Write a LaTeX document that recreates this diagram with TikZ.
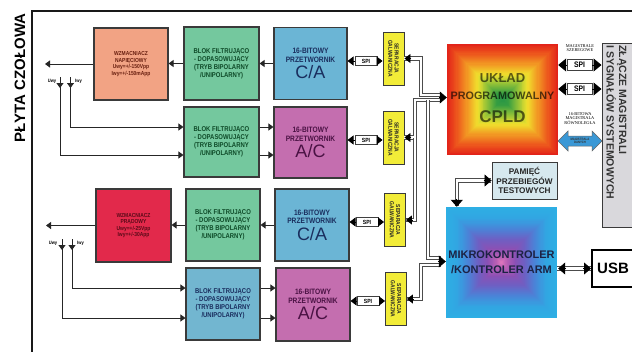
\documentclass[tikz,border=0pt]{standalone}
\usepackage{fontspec}
\setmainfont{Liberation Sans}
\newfontfamily\nar[FakeStretch=0.85]{Liberation Sans}
\newfontfamily\srf{Liberation Serif}
\usetikzlibrary{arrows.meta,calc}

\definecolor{salmon}{HTML}{F2A384}
\definecolor{fgreen}{HTML}{74C89E}
\definecolor{cblue}{HTML}{6BB5D5}
\definecolor{cmag}{HTML}{C46EAF}
\definecolor{cred}{HTML}{E2294B}
\definecolor{fblue}{HTML}{72B6D0}
\definecolor{sepy}{HTML}{F2EC38}
\definecolor{gbox}{HTML}{D9D8DC}
\definecolor{pbox}{HTML}{D6E8EE}
\definecolor{edge}{HTML}{3A3A3A}
\definecolor{arrblue}{HTML}{3A98D6}
\definecolor{wtxt}{HTML}{6A2010}
\definecolor{rtxt}{HTML}{5A0A18}
\definecolor{gtxt}{HTML}{0E4A28}
\definecolor{btxt}{HTML}{1A2E5E}
\definecolor{mtxt}{HTML}{4A1244}
\definecolor{mcutxt}{HTML}{1C2244}
% CPLD gradient stops
\definecolor{cp0}{RGB}{226,35,25}
\definecolor{cp1}{RGB}{236,80,28}
\definecolor{cp2}{RGB}{242,150,35}
\definecolor{cp3}{RGB}{240,225,45}
\definecolor{cp4}{RGB}{150,195,55}
\definecolor{cp5}{RGB}{55,158,65}
\definecolor{cp6}{RGB}{40,150,70}
% MCU gradient stops
\definecolor{mc0}{RGB}{45,175,228}
\definecolor{mc1}{RGB}{50,165,226}
\definecolor{mc2}{RGB}{75,130,215}
\definecolor{mc3}{RGB}{110,95,195}
\definecolor{mc4}{RGB}{140,80,180}
\definecolor{mc5}{RGB}{185,95,180}
\definecolor{mc6}{RGB}{225,120,190}

\newcommand\fsz[2]{\fontsize{#1}{#2}\selectfont}
% square "box" gradient: x-left, y-top, size, colour prefix, stop list
\newcommand\gradsq[5]{%
  \foreach \gA/\gB/\tA/\tB in {#5}{%
    \foreach \kk in {0,...,9}{%
      \pgfmathsetmacro\dd{(\tA+(\tB-\tA)*\kk/10)*#3/2}%
      \pgfmathtruncatemacro\gp{\kk*10}%
      \fill[fill=#4\gB!\gp!#4\gA] (#1+\dd,#2+\dd) rectangle (#1+#3-\dd,#2+#3-\dd);
    }}}

\begin{document}
\begin{tikzpicture}[x=1pt,y=-1pt,
  box/.style={draw=edge, line width=1.1pt, inner sep=1pt, align=center},
  amptxt/.style={font=\nar\bfseries\fsz{5.8}{6.4}},
  filtxt/.style={font=\nar\bfseries\fsz{7}{8}},
  convtxt/.style={font=\nar\bfseries\fsz{7.8}{8.8}},
  sepbox/.style={draw=edge, fill=sepy, line width=0.9pt, minimum width=21, minimum height=53, inner sep=0},
  septxt/.style={rotate=-90, align=center, inner sep=0, text=black!85, font=\nar\bfseries\fsz{5.8}{6.4}},
  spibox/.style={draw=black!75, fill=white, line width=0.6pt, minimum width=22, minimum height=9, inner sep=0, font=\nar\bfseries\fsz{6}{6}},
  spiRbox/.style={draw=black!75, fill=white, line width=0.6pt, minimum width=25, minimum height=11, inner sep=0, font=\nar\bfseries\fsz{8}{8}},
  lbl/.style={inner sep=0, font=\nar\bfseries\fsz{4.8}{5}},
  tiny/.style={inner sep=0, align=center, font=\srf\fsz{4.4}{4.3}},
  tipS/.style={draw=black!85, line width=0.9pt, -{Triangle[length=5pt,width=7pt]}},
  tipM/.style={draw=black, line width=0.8pt, -{Triangle[length=6pt,width=9pt]}},
  tipL/.style={draw=black, line width=0.8pt, -{Triangle[length=7pt,width=12pt]}},
  tipXL/.style={draw=black, line width=0.8pt, -{Triangle[length=8pt,width=13pt]}},
  pipe/.style={draw=black!70, line width=0.9pt, double=white, double distance=2.4pt}
]
\useasboundingbox (0,0) rectangle (632,351);
\fill[white] (0,0) rectangle (632,351);

% frame and front-panel label
\draw[line width=2.3pt, draw=black!90] (32,353) -- (32,11) -- (636,11);
\node[rotate=90, inner sep=0, font=\bfseries\fsz{15}{15}] (plyta) at (20,78) {PŁYTA CZOŁOWA};

% ---------- channel 1 (voltage) ----------
\node[box, amptxt, fill=salmon, text=wtxt, minimum width=74, minimum height=72] (wzm1) at (131,64)
  {WZMACNIACZ\\NAPIĘCIOWY\\Uwy=+/-150Vpp\\Iwy=+/-150mApp};
\node[box, filtxt, fill=fgreen, text=gtxt, minimum width=75, minimum height=73] (fil1) at (221.5,63.5)
  {BLOK FILTRUJĄCO\\- DOPASOWUJĄCY\\(TRYB BIPOLARNY\\/UNIPOLARNY)};
\node[box, convtxt, fill=cblue, text=btxt, minimum width=73, minimum height=72] (ca1) at (310.5,63.5)
  {16-BITOWY\\PRZETWORNIK\\[2pt]{\rmfamily\mdseries\fsz{18}{18}C/A}};
\node[box, filtxt, fill=fgreen, text=gtxt, minimum width=75, minimum height=70] (fil2) at (221.5,142)
  {BLOK FILTRUJĄCO\\- DOPASOWUJĄCY\\(TRYB BIPOLARNY\\/UNIPOLARNY)};
\node[box, convtxt, fill=cmag, text=mtxt, minimum width=73, minimum height=71] (ac1) at (310.5,142.5)
  {16-BITOWY\\PRZETWORNIK\\[2pt]{\rmfamily\mdseries\fsz{18}{18}A/C}};

% ---------- channel 2 (current) ----------
\node[box, amptxt, fill=cred, text=rtxt, minimum width=75, minimum height=73] (wzm2) at (133.5,225.5)
  {WZMACNIACZ\\PRĄDOWY\\Uwy=+/-25Vpp\\Iwy=+/-30App};
\node[box, filtxt, fill=fgreen, text=gtxt, minimum width=74, minimum height=72] (fil3) at (223,225)
  {BLOK FILTRUJĄCO\\- DOPASOWUJĄCY\\(TRYB BIPOLARNY\\/UNIPOLARNY)};
\node[box, convtxt, fill=cblue, text=btxt, minimum width=74, minimum height=72] (ca2) at (312,225)
  {16-BITOWY\\PRZETWORNIK\\[2pt]{\rmfamily\mdseries\fsz{18}{18}C/A}};
\node[box, filtxt, fill=fblue, text=btxt, minimum width=74, minimum height=72] (fil4) at (223,304)
  {BLOK FILTRUJĄCO\\- DOPASOWUJĄCY\\(TRYB BIPOLARNY\\/UNIPOLARNY)};
\node[box, convtxt, fill=cmag, text=mtxt, minimum width=74, minimum height=73] (ac2) at (313,304.5)
  {16-BITOWY\\PRZETWORNIK\\[2pt]{\rmfamily\mdseries\fsz{18}{18}A/C}};

% ---------- galvanic separation ----------
\node[sepbox] (sep1) at (393.5,58.5) {};
\node[sepbox] (sep2) at (393.5,137.5) {};
\node[sepbox] (sep3) at (395,220) {};
\node[sepbox] (sep4) at (396,299) {};
\foreach \s in {sep1,sep2,sep3,sep4}{\node[septxt] (\s t) at (\s) {SEPARACJA\\GALWANICZNA};}

% ---------- SPI between converters and separation ----------
\node[spibox] (spiA) at (366,61) {SPI};
\node[spibox] (spiB) at (366,140) {SPI};
\node[spibox] (spiC) at (367,222) {SPI};
\node[spibox] (spiD) at (368,301) {SPI};
\draw[tipM] (spiA.west) -- (spiA.west -| ca1.east);
\draw[tipM] (spiA.east) -- (spiA.east -| sep1.west);
\draw[tipM] (spiB.west) -- (spiB.west -| ac1.east);
\draw[tipM] (spiB.east) -- (spiB.east -| sep2.west);
\draw[tipM] (spiC.west) -- (spiC.west -| ca2.east);
\draw[tipM] (spiC.east) -- (spiC.east -| sep3.west);
\draw[tipM] (spiD.west) -- (spiD.west -| ac2.east);
\draw[tipM] (spiD.east) -- (spiD.east -| sep4.west);

% ---------- CPLD and MCU ----------
\gradsq{447}{44}{111}{cp}{0/1/0/0.15, 1/2/0.15/0.35, 2/3/0.35/0.55, 3/4/0.55/0.7, 4/5/0.7/0.88, 5/6/0.88/1}
\node[minimum size=111, inner sep=0] (cpld) at (502.5,99.5) {};
\node[inner sep=0, text=black, text opacity=0.6, font=\bfseries\fsz{13}{13}] (cpl1) at (502.5,78) {UKŁAD};
\node[inner sep=0, text=black, text opacity=0.65, font=\bfseries\fsz{10.8}{11}] (cpl2) at (502.5,96) {PROGRAMOWALNY};
\node[inner sep=0, text=black, text opacity=0.6, font=\bfseries\fsz{17}{17}] (cpl3) at (502.5,117) {CPLD};

\gradsq{446}{207}{111}{mc}{0/1/0/0.2, 1/2/0.2/0.4, 2/3/0.4/0.58, 3/4/0.58/0.75, 4/5/0.75/0.9, 5/6/0.9/1}
\node[minimum size=111, inner sep=0, align=center, text=mcutxt, font=\bfseries\fsz{11}{15}] (mcu) at (501.5,262.5)
  {MIKROKONTROLER\\/KONTROLER ARM};

\node[box, fill=pbox, line width=0.9pt, minimum width=65, minimum height=37, text=black!85,
      font=\bfseries\fsz{8.2}{9.3}] (pam) at (524.5,180.5) {PAMIĘĆ\\PRZEBIEGÓW\\TESTOWYCH};
\node[draw=black, line width=2pt, fill=white, minimum width=42, minimum height=37, inner sep=0,
      font=\bfseries\fsz{15}{15}] (usb) at (613,268.5) {USB};

% ---------- system connector ----------
\node[draw=edge, line width=1pt, fill=gbox, minimum width=32, minimum height=184, inner sep=0] (conn) at (618,135) {};
\node[rotate=-90, anchor=west, align=left, inner sep=0, text=black!80, font=\bfseries\fsz{10.5}{11}] (conntxt)
  at (616.5,45) {ZŁĄCZE MAGISTRALI\\I SYGNAŁÓW SYSTEMOWYCH};

% ---------- right-hand buses ----------
\node[spiRbox] (spiR1) at (579.5,65) {SPI};
\node[spiRbox] (spiR2) at (579.5,89) {SPI};
\draw[tipXL] (spiR1.west) -- (spiR1.west -| cpld.east);
\draw[tipXL] (spiR1.east) -- (spiR1.east -| conn.west);
\draw[tipXL] (spiR2.west) -- (spiR2.west -| cpld.east);
\draw[tipXL] (spiR2.east) -- (spiR2.east -| conn.west);
\node[tiny] (lbser) at (580,48) {MAGISTRALE\\SZEREGOWE};
\node[tiny] (lbpar) at (580,118.5) {16-BITOWA\\MAGISTRALA\\RÓWNOLEGŁA};
\filldraw[fill=arrblue, draw=black!60, line width=0.5pt]
  (558,141) -- (568,131) -- (568,136) -- (592,136) -- (592,131) -- (602,141)
  -- (592,151) -- (592,146) -- (568,146) -- (568,151) -- cycle;
\node[inner sep=0, align=center, text=black!80, font=\nar\bfseries\fsz{3.3}{3.6}] (blu) at (580,141) {MAGISTRALA\\DANYCH};

% ---------- internal bus from separation to CPLD / MCU ----------
\coordinate (cA) at (441,95);
\coordinate (cB) at (441,100);
\coordinate (mA) at (441,258);
\coordinate (mB) at (441,265);
\draw[pipe] (sep1.east) -| (421,95) -- (cA);
\draw[pipe] (sep2.east) -| (415,100) -- (cB);
\draw[pipe] (sep3.east) -| (415,137.5);
\draw[pipe] (428,100) -- (428,258) -- (mA);
\draw[pipe] (sep4.east) -| (421,265) -- (mB);
\foreach \s in {sep1,sep2,sep3,sep4}{\draw[tipM] ($(\s.east)+(7,0)$) -- (\s.east);}
\draw[tipL] ($(cpld.west)+(-8,-2)$) -- ($(cpld.west)+(0,-2)$);
\draw[tipL] ($(mcu.west)+(-8,-1)$) -- ($(mcu.west)+(0,-1)$);

% MCU <-> memory, MCU <-> USB
\draw[pipe] ($(mcu.north west)+(11,-1)$) |- ($(pam.west)+(-1,0)$);
\draw[tipL] ($(mcu.north west)+(11,-8)$) -- ($(mcu.north west)+(11,0)$);
\draw[tipL] ($(pam.west)+(-8,0)$) -- (pam.west);
\draw[pipe] (mcu.east |- usb.west) -- (usb.west);
\draw[tipL] ($(mcu.east |- usb.west)+(9,0)$) -- ($(mcu.east |- usb.west)+(1,0)$);
\draw[tipL] ($(usb.west)+(-8,0)$) -- (usb.west);

% ---------- left-side signal connectors, channel 1 ----------
\draw[tipS] (fil1.west) -- (fil1.west -| wzm1.east);
\draw[tipS] (ca1.west) -- (ca1.west -| fil1.east);
\coordinate (o1) at (45,64);
\draw[tipS] (wzm1.west) -- (o1);
\node[lbl] (uwy1) at (52,81) {Uwy};
\node[lbl] (iwy1) at (78.5,81) {Iwy};
\coordinate (ua1) at (60,77);
\coordinate (ia1) at (70.5,77);
\coordinate (f2a) at ($(fil2.west)+(0,-15)$);
\coordinate (f2b) at ($(fil2.west)+(0,13)$);
\draw[tipS] (ia1) |- (f2a);
\draw[tipS] (ua1) |- (f2b);
\draw[tipS] (ua1) -- ++(0,11);
\draw[tipS] (ia1) -- ++(0,11);
\draw[tipS] (fil2.east |- f2a) -- (ac1.west |- f2a);
\draw[tipS] (fil2.east |- f2b) -- (ac1.west |- f2b);

% ---------- left-side signal connectors, channel 2 ----------
\draw[tipS] (fil3.west) -- (fil3.west -| wzm2.east);
\draw[tipS] (ca2.west) -- (ca2.west -| fil3.east);
\coordinate (o2) at (46,225.5);
\draw[tipS] (wzm2.west) -- (o2);
\node[lbl] (uwy2) at (53,243) {Uwy};
\node[lbl] (iwy2) at (80.5,243) {Iwy};
\coordinate (ua2) at (62,239);
\coordinate (ia2) at (72,239);
\coordinate (f4a) at ($(fil4.west)+(0,-16)$);
\coordinate (f4b) at ($(fil4.west)+(0,14)$);
\draw[tipS] (ia2) |- (f4a);
\draw[tipS] (ua2) |- (f4b);
\draw[tipS] (ua2) -- ++(0,11);
\draw[tipS] (ia2) -- ++(0,11);
\draw[tipS] (fil4.east |- f4a) -- (ac2.west |- f4a);
\draw[tipS] (fil4.east |- f4b) -- (ac2.west |- f4b);
\end{tikzpicture}
\end{document}
